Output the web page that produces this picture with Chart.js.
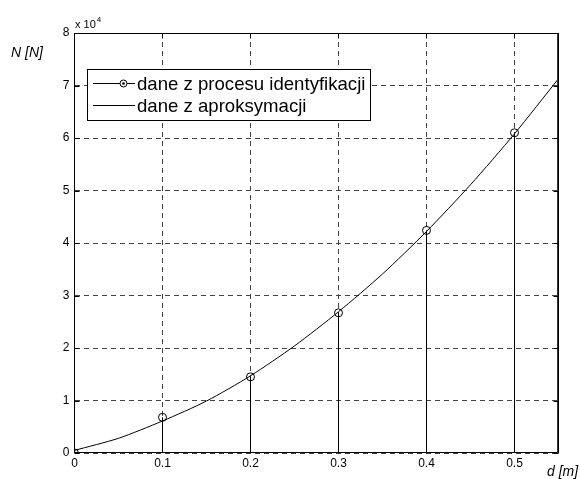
<!DOCTYPE html>
<html>
<head>
<meta charset="utf-8">
<script src="https://cdn.jsdelivr.net/npm/chart.js@4"></script>
<style>
  html, body { margin: 0; padding: 0; background: #fff; }
  #wrap { width: 580px; height: 479px; }
</style>
</head>
<body>
<div id="wrap"><canvas id="c" width="580" height="479"></canvas></div>
<script>
// ---- data (N in units of 10^4) ----
const identD = [0, 0.1, 0.2, 0.3, 0.4, 0.5];
const identN = [0, 0.68, 1.45, 2.67, 4.24, 6.10];
const approxD = [0, 0.05, 0.1, 0.15, 0.2, 0.25, 0.3, 0.35, 0.4, 0.45, 0.5, 0.55];
const approxN = [0.05, 0.28, 0.61, 0.99, 1.47, 2.04, 2.69, 3.41, 4.22, 5.11, 6.08, 7.13];
const xTicks = [0, 0.1, 0.2, 0.3, 0.4, 0.5];
const yTicks = [0, 1, 2, 3, 4, 5, 6, 7, 8];
const legendLabels = ['dane z procesu identyfikacji', 'dane z aproksymacji'];
const yExponentLabel = 'x 10';
const yExponent = '4';
const yAxisTitle = 'N [N]';
const xAxisTitle = 'd [m]';

const FONT = 'Arial, "Liberation Sans", Helvetica, sans-serif';

// stems: vertical segments from 0 to each identified value
const stemData = [];
identD.forEach((d, i) => {
  stemData.push({x: d, y: 0});
  stemData.push({x: d, y: identN[i]});
  stemData.push({x: d, y: null});
});

const framePlugin = {
  id: 'matlabFrame',
  afterDraw(chart) {
    const ctx = chart.ctx;
    const a = chart.chartArea;
    const xs = chart.scales.x, ys = chart.scales.y;
    const L = Math.floor(a.left) + 0.5, R = Math.floor(a.right) + 0.5;
    const T = Math.round(a.top) + 0.5, B = Math.round(a.bottom) - 0.5;
    ctx.save();
    ctx.strokeStyle = '#000';
    ctx.lineWidth = 1;
    ctx.setLineDash([]);
    // frame
    ctx.strokeRect(L, T, R - L, B - T);
    ctx.strokeStyle = '#333';
    ctx.beginPath(); ctx.moveTo(R - 1, T); ctx.lineTo(R - 1, B + 0.5); ctx.stroke();
    ctx.strokeStyle = '#000';
    // inward ticks
    const tl = 5;
    ctx.beginPath();
    xTicks.forEach(v => {
      const px = Math.floor(xs.getPixelForValue(v)) + 0.5;
      ctx.moveTo(px, B); ctx.lineTo(px, B - tl);
      ctx.moveTo(px, T); ctx.lineTo(px, T + tl);
    });
    yTicks.forEach(v => {
      const py = Math.round(ys.getPixelForValue(v)) + 0.5;
      ctx.moveTo(L, py); ctx.lineTo(L + tl, py);
      ctx.moveTo(R, py); ctx.lineTo(R - tl, py);
    });
    ctx.stroke();

    // exponent label
    ctx.fillStyle = '#000';
    ctx.textBaseline = 'alphabetic';
    ctx.textAlign = 'left';
    ctx.font = '11px ' + FONT;
    ctx.fillText(yExponentLabel, 75, 28);
    const w = ctx.measureText(yExponentLabel).width;
    ctx.font = '8px ' + FONT;
    ctx.fillText(yExponent, 75 + w + 1, 22);

    // axis titles
    ctx.font = 'italic 14px ' + FONT;
    ctx.fillText(yAxisTitle, 11, 57);
    ctx.font = 'italic 14px ' + FONT;
    ctx.fillText(xAxisTitle, 547, 476);

    // legend box
    const bx = 87.5, by = 69.5, bw = 283, bh = 51;
    ctx.fillStyle = '#fff';
    ctx.fillRect(bx, by, bw, bh);
    ctx.strokeStyle = '#000';
    ctx.strokeRect(bx, by, bw, bh);
    ctx.fillStyle = '#000';
    ctx.textAlign = 'left';
    ctx.textBaseline = 'alphabetic';
    ctx.font = '18.6px ' + FONT;
    const y1 = 83.5, y2 = 105.5;
    // row 1
    ctx.beginPath();
    ctx.moveTo(93, y1); ctx.lineTo(135, y1);
    ctx.stroke();
    ctx.fillStyle = '#fff';
    ctx.beginPath(); ctx.arc(123.5, y1, 3.5, 0, Math.PI * 2); ctx.fill(); ctx.stroke();
    ctx.fillStyle = '#000';
    ctx.beginPath(); ctx.arc(123.5, y1, 1.3, 0, Math.PI * 2); ctx.fill();
    ctx.fillText(legendLabels[0], 137, 90);
    // row 2
    ctx.beginPath();
    ctx.moveTo(93, y2); ctx.lineTo(135, y2);
    ctx.stroke();
    ctx.fillText(legendLabels[1], 137, 112);
    ctx.restore();
  }
};

new Chart(document.getElementById('c'), {
  type: 'scatter',
  data: {
    datasets: [
      {
        label: 'stems',
        data: stemData,
        showLine: true,
        spanGaps: false,
        borderColor: '#000',
        borderWidth: 1,
        pointRadius: 0,
        pointHoverRadius: 0
      },
      {
        label: legendLabels[1],
        data: approxD.map((d, i) => ({x: d, y: approxN[i]})),
        showLine: true,
        borderColor: '#000',
        borderWidth: 1,
        pointRadius: 0,
        tension: 0.25
      },
      {
        label: legendLabels[0],
        data: identD.map((d, i) => ({x: d, y: identN[i]})),
        showLine: false,
        pointStyle: 'circle',
        pointRadius: 4,
        pointBorderWidth: 1,
        pointBorderColor: '#000',
        pointBackgroundColor: 'rgba(0,0,0,0)'
      }
    ]
  },
  options: {
    responsive: false,
    animation: false,
    events: [],
    layout: { padding: { left: 0.5, top: 33, right: 21.5, bottom: 0 } },
    plugins: { legend: { display: false }, tooltip: { enabled: false } },
    scales: {
      x: {
        type: 'linear',
        min: 0, max: 0.55,
        afterBuildTicks: s => { s.ticks = xTicks.map(v => ({value: v})); },
        afterFit: s => { s.height = 26; },
        ticks: {
          color: '#000',
          font: { family: FONT, size: 12 },
          padding: 3,
          maxRotation: 0,
          autoSkip: false,
          callback: v => String(v)
        },
        grid: { color: '#444', lineWidth: 1, drawTicks: false },
        border: { display: false, dash: [5, 4] }
      },
      y: {
        type: 'linear',
        min: 0, max: 8,
        afterBuildTicks: s => { s.ticks = yTicks.map(v => ({value: v})); },
        afterFit: s => { s.width = 74; },
        ticks: {
          color: '#000',
          font: { family: FONT, size: 12 },
          padding: 5,
          autoSkip: false,
          callback: v => String(v)
        },
        grid: { color: '#444', lineWidth: 1, drawTicks: false },
        border: { display: false, dash: [5, 4] }
      }
    }
  },
  plugins: [framePlugin]
});
</script>
</body>
</html>
